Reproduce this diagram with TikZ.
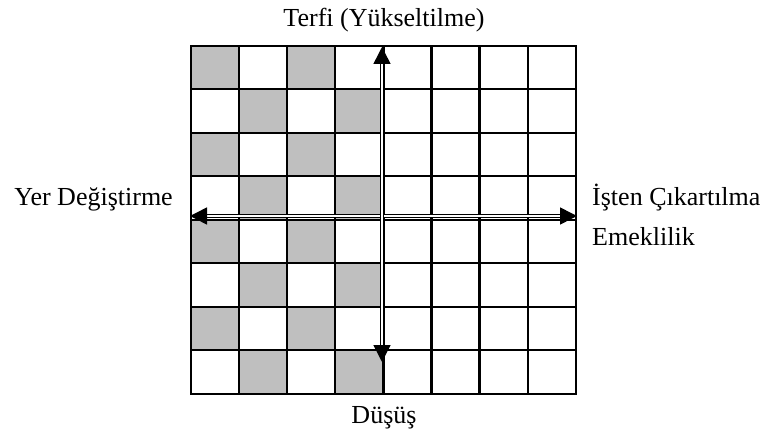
\documentclass[tikz,border=0pt]{standalone}
\usepackage{fontspec}
\setmainfont{Liberation Serif}
\usetikzlibrary{arrows.meta}
\begin{document}
\begin{tikzpicture}[x=1pt,y=-1pt,
  cell/.style={fill=black!25, draw=none},
  gridline/.style={line width=2.3pt, line cap=rect},
  axis/.style={line width=1.5pt, double=white, double distance=1.1pt,
    {Triangle[length=17pt,width=17pt,fill=black]}-{Triangle[length=17pt,width=17pt,fill=black]}},
  lbl/.style={inner sep=0pt, anchor=base, font=\fontsize{26}{30}\selectfont}]
\useasboundingbox (0,0) rectangle (768,436);
% grey squares of the board
\foreach \r in {0,...,7}{
  \pgfmathtruncatemacro{\off}{mod(\r,2)}
  \foreach \c in {0,2}{
    \pgfmathsetmacro{\xa}{191+48.1*(\c+\off)}
    \pgfmathsetmacro{\ya}{45.7+43.5*\r}
    \fill[cell] (\xa,\ya) rectangle ++(48.1,43.5);
  }
}
% board lines
\foreach \c in {0,...,8}{
  \pgfmathsetmacro{\xa}{191+48.1*\c}
  \draw[gridline] (\xa,45.7) -- (\xa,393.7);
}
\foreach \r in {0,...,8}{
  \pgfmathsetmacro{\ya}{45.7+43.5*\r}
  \draw[gridline] (191,\ya) -- (575.8,\ya);
}
% axis ends
\coordinate (west) at (190,216);
\coordinate (east) at (577,216);
\coordinate (north) at (382,47);
\coordinate (south) at (382,362);
\draw[axis] (west) -- (east);
\draw[axis] (south) -- (north);
% labels
\node[lbl] (up) at (384,27) {Terfi (Yükseltilme)};
\node[lbl] (down) at (384,423) {Düşüş};
\node[lbl, anchor=base east] (left) at (173,205) {Yer Değiştirme};
\node[lbl, anchor=base west] (right) at (592,205) {İşten Çıkartılma};
\node[lbl, anchor=base west] (retire) at (592,245) {Emeklilik};
\end{tikzpicture}
\end{document}
